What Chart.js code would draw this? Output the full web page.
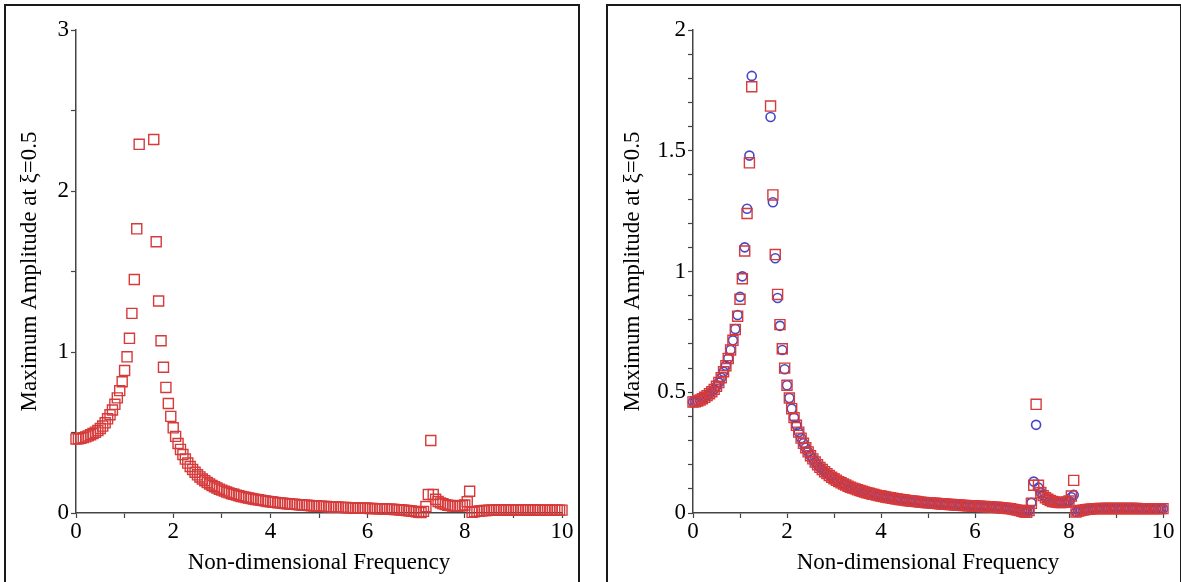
<!DOCTYPE html>
<html>
<head>
<meta charset="utf-8">
<script src="https://cdn.jsdelivr.net/npm/chart.js@4.4.1/dist/chart.umd.min.js"></script>
<style>
  body { margin: 0; background: #fff; width: 1181px; height: 582px; overflow: hidden; position: relative; }
  .frame { position: absolute; top: 4px; height: 600px; border: 2px solid #1a1a1a; }
  canvas { position: absolute; top: 0; }
</style>
</head>
<body>
<div class="frame" style="left:4px; width:572px;"></div>
<div class="frame" style="left:606px; width:572px;"></div>
<canvas id="leftChart" width="590" height="582" style="left:0"></canvas>
<canvas id="rightChart" width="586" height="582" style="left:595px"></canvas>
<script>
// frequency grid shared by both panels
const freq = [
  0, 0.05, 0.1, 0.15, 0.2, 0.25, 0.3, 0.35, 0.4, 0.45,
  0.5, 0.55, 0.6, 0.65, 0.7, 0.75, 0.8, 0.85, 0.9, 0.95,
  1, 1.05, 1.1, 1.15, 1.2, 1.25, 1.3, 1.35, 1.4, 1.45,
  1.5, 1.55, 1.6, 1.65, 1.7, 1.75, 1.8, 1.85, 1.9, 1.95,
  2, 2.05, 2.1, 2.15, 2.2, 2.25, 2.3, 2.35, 2.4, 2.45,
  2.5, 2.55, 2.6, 2.65, 2.7, 2.75, 2.8, 2.85, 2.9, 2.95,
  3, 3.05, 3.1, 3.15, 3.2, 3.25, 3.3, 3.35, 3.4, 3.45,
  3.5, 3.55, 3.6, 3.65, 3.7, 3.75, 3.8, 3.85, 3.9, 3.95,
  4, 4.05, 4.1, 4.15, 4.2, 4.25, 4.3, 4.35, 4.4, 4.45,
  4.5, 4.55, 4.6, 4.65, 4.7, 4.75, 4.8, 4.85, 4.9, 4.95,
  5, 5.05, 5.1, 5.15, 5.2, 5.25, 5.3, 5.35, 5.4, 5.45,
  5.5, 5.55, 5.6, 5.65, 5.7, 5.75, 5.8, 5.85, 5.9, 5.95,
  6, 6.05, 6.1, 6.15, 6.2, 6.25, 6.3, 6.35, 6.4, 6.45,
  6.5, 6.55, 6.6, 6.65, 6.7, 6.75, 6.8, 6.85, 6.9, 6.95,
  7, 7.05, 7.1, 7.15, 7.2, 7.25, 7.3, 7.35, 7.4, 7.45,
  7.5, 7.55, 7.6, 7.65, 7.7, 7.75, 7.8, 7.85, 7.9, 7.95,
  8, 8.05, 8.1, 8.15, 8.2, 8.25, 8.3, 8.35, 8.4, 8.45,
  8.5, 8.55, 8.6, 8.65, 8.7, 8.75, 8.8, 8.85, 8.9, 8.95,
  9, 9.05, 9.1, 9.15, 9.2, 9.25, 9.3, 9.35, 9.4, 9.45,
  9.5, 9.55, 9.6, 9.65, 9.7, 9.75, 9.8, 9.85, 9.9, 9.95,
  10
];

// red squares (same series in both panels), null = off the plot
const ampSquares = [
  0.460, 0.461, 0.464, 0.468, 0.473, 0.479, 0.486, 0.494, 0.502, 0.512,
  0.525, 0.540, 0.560, 0.585, 0.610, 0.640, 0.675, 0.715, 0.760, 0.815,
  0.885, 0.970, 1.085, 1.240, 1.450, 1.765, 2.290, null, null, null,
  null, null, 2.320, 1.685, 1.317, 1.070, 0.905, 0.780, 0.680, 0.600,
  0.529, 0.476, 0.432, 0.395, 0.363, 0.335, 0.310, 0.289, 0.270, 0.253,
  0.237, 0.224, 0.211, 0.200, 0.189, 0.180, 0.171, 0.163, 0.155, 0.148,
  0.142, 0.136, 0.130, 0.125, 0.120, 0.116, 0.111, 0.107, 0.103, 0.100,
  0.096, 0.093, 0.090, 0.087, 0.084, 0.082, 0.079, 0.077, 0.074, 0.072,
  0.070, 0.068, 0.066, 0.064, 0.063, 0.061, 0.059, 0.058, 0.056, 0.055,
  0.054, 0.052, 0.051, 0.050, 0.049, 0.048, 0.046, 0.045, 0.044, 0.043,
  0.042, 0.042, 0.041, 0.040, 0.039, 0.038, 0.037, 0.037, 0.036, 0.035,
  0.035, 0.034, 0.033, 0.033, 0.032, 0.031, 0.031, 0.030, 0.030, 0.029,
  0.029, 0.028, 0.028, 0.027, 0.027, 0.026, 0.026, 0.025, 0.024, 0.024,
  0.023, 0.022, 0.021, 0.020, 0.019, 0.018, 0.016, 0.014, 0.012, 0.010,
  0.007, 0.004, 0.003, 0.010, 0.040, 0.115, 0.450, 0.115, 0.085, 0.072,
  0.063, 0.057, 0.052, 0.048, 0.046, 0.044, 0.043, 0.043, 0.044, 0.046,
  0.050, 0.070, 0.135, 0.004, 0.008, 0.010, 0.012, 0.014, 0.015, 0.016,
  0.017, 0.018, 0.018, 0.019, 0.019, 0.019, 0.019, 0.019, 0.019, 0.019,
  0.019, 0.019, 0.019, 0.019, 0.019, 0.019, 0.019, 0.019, 0.019, 0.019,
  0.018, 0.018, 0.018, 0.018, 0.018, 0.018, 0.018, 0.018, 0.018, 0.018,
  0.018
];

// blue circles (right panel only)
const ampCircles = [
  0.460, 0.461, 0.464, 0.468, 0.473, 0.479, 0.486, 0.494, 0.502, 0.512,
  0.525, 0.540, 0.560, 0.585, 0.610, 0.640, 0.675, 0.715, 0.762, 0.820,
  0.895, 0.980, 1.100, 1.260, 1.480, 1.810, null, null, null, null,
  null, null, null, 1.640, 1.287, 1.055, 0.890, 0.775, 0.675, 0.595,
  0.529, 0.476, 0.432, 0.395, 0.363, 0.335, 0.310, 0.289, 0.270, 0.253,
  0.237, 0.224, 0.211, 0.200, 0.189, 0.180, 0.171, 0.163, 0.155, 0.148,
  0.142, 0.136, 0.130, 0.125, 0.120, 0.116, 0.111, 0.107, 0.103, 0.100,
  0.096, 0.093, 0.090, 0.087, 0.084, 0.082, 0.079, 0.077, 0.074, 0.072,
  0.070, 0.068, 0.066, 0.064, 0.063, 0.061, 0.059, 0.058, 0.056, 0.055,
  0.054, 0.052, 0.051, 0.050, 0.049, 0.048, 0.046, 0.045, 0.044, 0.043,
  0.042, 0.042, 0.041, 0.040, 0.039, 0.038, 0.037, 0.037, 0.036, 0.035,
  0.035, 0.034, 0.033, 0.033, 0.032, 0.031, 0.031, 0.030, 0.030, 0.029,
  0.029, 0.028, 0.028, 0.027, 0.027, 0.026, 0.026, 0.025, 0.024, 0.024,
  0.023, 0.022, 0.021, 0.020, 0.019, 0.018, 0.016, 0.014, 0.012, 0.010,
  0.007, 0.004, 0.003, 0.010, 0.042, 0.130, 0.365, 0.105, 0.085, 0.072,
  0.063, 0.057, 0.052, 0.048, 0.046, 0.044, 0.043, 0.043, 0.044, 0.046,
  0.050, 0.065, 0.075, 0.004, 0.008, 0.010, 0.012, 0.014, 0.015, 0.016,
  0.017, 0.018, 0.018, 0.019, 0.019, 0.019, 0.019, 0.019, 0.019, 0.019,
  0.019, 0.019, 0.019, 0.019, 0.019, 0.019, 0.019, 0.019, 0.019, 0.019,
  0.018, 0.018, 0.018, 0.018, 0.018, 0.018, 0.018, 0.018, 0.018, 0.018,
  0.018
];

const xLabels = [0, 2, 4, 6, 8, 10];
const leftYLabels = [0, 1, 2, 3];
const rightYLabels = [0, 0.5, 1, 1.5, 2];

const xTitle = 'Non-dimensional Frequency';
const yTitle = 'Maximum Amplitude at \u03BE=0.5';

const serif = '"Liberation Serif", "Times New Roman", serif';
const squareColor = 'rgb(214, 58, 58)';
const circleColor = 'rgb(70, 70, 200)';

function toPoints(values) {
  return freq.map((f, i) => ({ x: f, y: values[i] }));
}

function onList(list, v) {
  return list.some(l => Math.abs(l - v) < 1e-6);
}

/*
*   Builds one Maple-style panel: axes through the origin, outward ticks,
*   labels only on the major values, no grid.
*/
function makePanel(canvasId, datasets, yMax, yStep, yLabels, area) {
  const ctx = document.getElementById(canvasId).getContext('2d');
  const tickFont = { family: serif, size: 23 };
  const titleFont = { family: serif, size: 23 };

  return new Chart(ctx, {
    type: 'scatter',
    data: { datasets: datasets },
    options: {
      responsive: false,
      animation: false,
      devicePixelRatio: 1,
      layout: { padding: { top: area.top, right: area.right, left: 0, bottom: 0 } },
      plugins: {
        legend: { display: false },
        tooltip: { enabled: false }
      },
      scales: {
        x: {
          type: 'linear',
          min: 0,
          max: 10,
          afterFit: s => { s.height = area.xHeight; },
          ticks: {
            stepSize: 1,
            autoSkip: false,
            maxRotation: 0,
            padding: 0,
            color: '#000',
            font: tickFont,
            callback: v => onList(xLabels, v) ? String(v) : ''
          },
          grid: { drawOnChartArea: false, drawTicks: true, tickLength: 5, tickColor: '#444', tickWidth: 1.2 },
          border: { display: true, color: '#444', width: 1.5 },
          title: { display: true, text: xTitle, color: '#000', font: titleFont, padding: { top: 0, bottom: area.xTitlePad } }
        },
        y: {
          type: 'linear',
          min: 0,
          max: yMax,
          afterFit: s => { s.width = area.yWidth; },
          ticks: {
            stepSize: yStep,
            autoSkip: false,
            padding: 2,
            color: '#000',
            font: tickFont,
            callback: v => {
              const r = Math.round(v * 10) / 10;
              return onList(yLabels, r) ? String(r) : '';
            }
          },
          grid: { drawOnChartArea: false, drawTicks: true, tickLength: 5, tickColor: '#444', tickWidth: 1.2 },
          border: { display: true, color: '#444', width: 1.5 },
          title: { display: true, text: yTitle, color: '#000', font: titleFont, padding: { top: area.yTitlePad, bottom: 0 } }
        }
      }
    }
  });
}

const squareSet = {
  label: 'squares',
  data: toPoints(ampSquares),
  pointStyle: 'rect',
  pointRadius: 7.1,
  pointBorderWidth: 1.4,
  pointBorderColor: squareColor,
  pointBackgroundColor: 'rgba(0,0,0,0)',
  showLine: false,
  clip: 8
};

const circleSet = {
  label: 'circles',
  data: toPoints(ampCircles),
  pointStyle: 'circle',
  pointRadius: 4.5,
  pointBorderWidth: 1.6,
  pointBorderColor: circleColor,
  pointBackgroundColor: 'rgba(0,0,0,0)',
  showLine: false,
  clip: 8
};

makePanel('leftChart', [squareSet], 3, 0.5, leftYLabels,
  { top: 30, right: 28, yWidth: 76, xHeight: 69, yTitlePad: 16, xTitlePad: 5 });

makePanel('rightChart', [Object.assign({}, squareSet, { data: toPoints(ampSquares) }), circleSet], 2, 0.1, rightYLabels,
  { top: 30, right: 18, yWidth: 98, xHeight: 69, yTitlePad: 24, xTitlePad: 5 });
</script>
</body>
</html>
